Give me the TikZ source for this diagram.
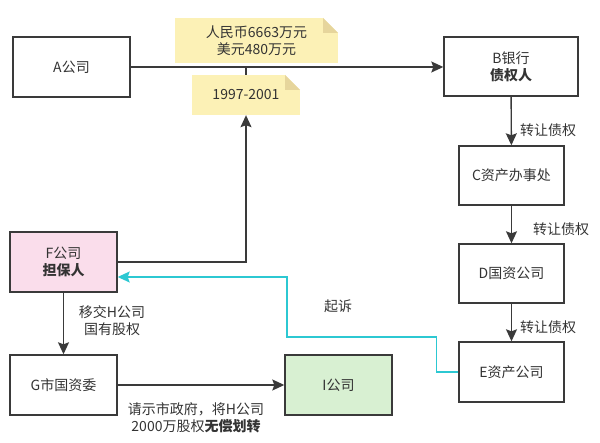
\documentclass[tikz,border=0pt]{standalone}
\usepackage{fontspec}
\setmainfont{Noto Sans CJK SC}
\usetikzlibrary{arrows.meta,calc}
\definecolor{ln}{HTML}{3A3A3A}
\definecolor{tx}{HTML}{333333}
\definecolor{pinkf}{HTML}{FADDEB}
\definecolor{greenf}{HTML}{D8F0D2}
\definecolor{notef}{HTML}{FCF1B6}
\definecolor{foldc}{HTML}{E6D59C}
\definecolor{cy}{HTML}{2CC8D2}
\begin{document}
\begin{tikzpicture}[x=1pt,y=-1pt,
  font=\fontsize{14}{17}\selectfont, text=tx,
  box/.style={draw=ln, line width=1.4pt, align=center, inner sep=2pt},
  note/.style={fill=notef, inner sep=0pt, align=center,
    path picture={
      \fill[white] ([xshift=-15pt]path picture bounding box.north east) -- (path picture bounding box.north east) -- ([yshift=-15pt]path picture bounding box.north east) -- cycle;
      \fill[foldc] ([xshift=-15pt]path picture bounding box.north east) -- ([yshift=-15pt]path picture bounding box.north east) -- ([xshift=-15pt,yshift=-15pt]path picture bounding box.north east) -- cycle;
    }},
  conn/.style={draw=ln, line width=1.4pt},
  arr/.style={conn, -{Stealth[length=12pt,width=11pt,inset=2pt]}},
  carr/.style={draw=cy, line width=1.4pt, -{Stealth[length=12pt,width=11pt,inset=2pt]}},
  lbl/.style={inner sep=0pt, align=center}
]
\useasboundingbox (0,0) rectangle (600,443);

\node[box, minimum width=117pt, minimum height=60pt] (A) at (71.5,67) {A公司};
\node[box, minimum width=134pt, minimum height=59pt] (B) at (511,66.5) {B银行\\\textbf{债权人}};
\node[box, minimum width=105pt, minimum height=59pt] (C) at (511.5,175.5) {C资产办事处};
\node[box, minimum width=105pt, minimum height=59pt] (D) at (511.5,273.5) {D国资公司};
\node[box, minimum width=105pt, minimum height=60pt] (E) at (511.5,372) {E资产公司};
\node[box, fill=pinkf, minimum width=107pt, minimum height=60pt] (F) at (63.5,262) {F公司\\\textbf{担保人}};
\node[box, minimum width=107pt, minimum height=60pt] (G) at (63.5,385) {G市国资委};
\node[box, fill=greenf, minimum width=107pt, minimum height=60pt] (I) at (338.5,385) {I公司};

\node[note, minimum width=163pt, minimum height=45pt] (n1) at (256.5,40.5) {人民币6663万元\\美元480万元};
\node[note, minimum width=108pt, minimum height=40pt] (n2) at (246,95) {1997-2001};

\draw[arr] (A.east) -- (A.east -| B.west);
\draw[conn] (n2.north) -- (n2.north |- A.east);
\draw[arr] (F.east) -- (F.east -| n2.south) -- (n2.south);

\draw[arr] (B) -- (C);
\node[lbl] (l1) at (548,130) {转让债权};
\draw[arr] (C) -- (D);
\node[lbl] (l2) at (561,229) {转让债权};
\draw[arr] (D) -- (E);
\node[lbl] (l3) at (548,327) {转让债权};

\draw[arr] (F) -- (G);
\node[lbl] (l4) at (112,321) {移交H公司\\国有股权};
\draw[arr] (G) -- (I);
\node[lbl] (l5) at (196,418) {请示市政府，将H公司\\2000万股权\textbf{无偿划转}};

\draw[carr] (E.west) -- ++(-22,0) |- (287,337) |- ($(F.east)+(0,15)$);
\node[lbl] (l6) at (338,306) {起诉};
\end{tikzpicture}
\end{document}
